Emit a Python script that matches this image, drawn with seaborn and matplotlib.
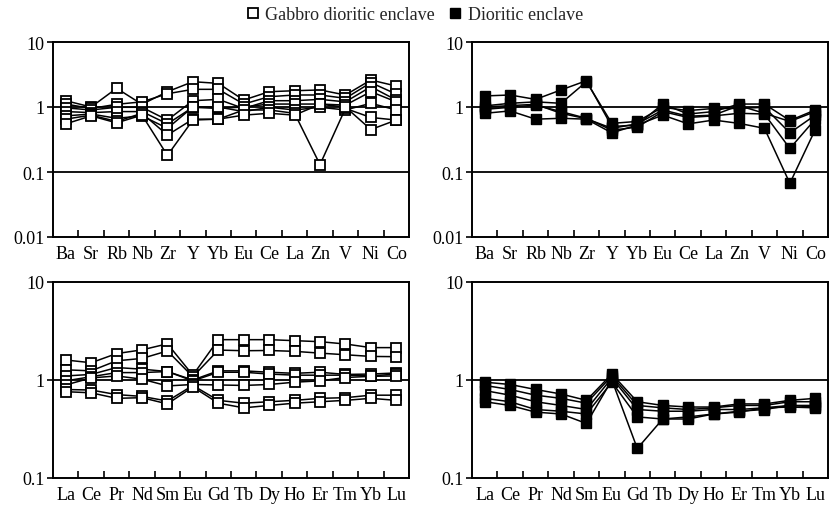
import numpy as np
import pandas as pd
import matplotlib
matplotlib.use("Agg")
import matplotlib.pyplot as plt
from matplotlib.lines import Line2D
from matplotlib.ticker import FixedLocator, NullFormatter
import seaborn as sns

# ---------------- data ----------------
trace_elements = ["Ba", "Sr", "Rb", "Nb", "Zr", "Y", "Yb", "Eu", "Ce", "La", "Zn", "V", "Ni", "Co"]
ree_elements = ["La", "Ce", "Pr", "Nd", "Sm", "Eu", "Gd", "Tb", "Dy", "Ho", "Er", "Tm", "Yb", "Lu"]

gabbro_trace = [
    [1.25, 1.00, 1.94, 1.10, 1.72, 2.45, 2.31, 1.28, 1.72, 1.78, 1.83, 1.53, 2.60, 2.10],
    [1.11, 0.95, 1.10, 1.20, 1.60, 1.87, 1.87, 1.11, 1.44, 1.53, 1.53, 1.36, 2.37, 1.58],
    [0.97, 0.90, 0.99, 0.99, 0.63, 1.25, 1.31, 0.95, 1.25, 1.25, 1.31, 1.20, 2.05, 1.28],
    [0.85, 0.82, 0.85, 0.85, 0.55, 0.99, 0.95, 1.00, 1.11, 1.11, 1.11, 1.07, 1.72, 1.20],
    [0.73, 0.78, 0.67, 0.73, 0.47, 1.00, 1.00, 0.85, 0.99, 0.90, 0.99, 0.90, 1.14, 0.90],
    [0.65, 0.75, 0.60, 0.80, 0.37, 0.65, 0.65, 0.90, 0.90, 0.80, 0.13, 0.95, 0.69, 0.63],
    [0.55, 0.73, 0.57, 0.75, 0.18, 0.63, 0.65, 0.75, 0.80, 0.75, 1.10, 1.00, 0.45, 0.63],
]
diorite_trace = [
    [1.48, 1.53, 1.31, 1.83, 2.54, 0.50, 0.53, 1.11, 0.78, 0.85, 1.11, 1.11, 0.62, 0.90],
    [1.04, 1.14, 1.20, 1.14, 2.45, 0.56, 0.60, 0.99, 0.88, 0.95, 0.95, 0.99, 0.40, 0.75],
    [0.92, 0.99, 1.07, 0.85, 0.67, 0.44, 0.49, 0.85, 0.69, 0.73, 0.80, 0.78, 0.23, 0.65],
    [0.80, 0.87, 0.65, 0.67, 0.65, 0.40, 0.53, 0.75, 0.55, 0.63, 0.56, 0.47, 0.067, 0.45],
    [1.00, 1.05, 1.10, 0.80, 0.66, 0.47, 0.55, 0.90, 0.72, 0.75, 1.05, 0.80, 0.60, 0.85],
]
gabbro_ree = [
    [1.60, 1.50, 1.86, 2.03, 2.34, 1.12, 2.58, 2.58, 2.58, 2.52, 2.46, 2.33, 2.14, 2.14],
    [1.27, 1.24, 1.57, 1.66, 1.98, 1.08, 2.02, 1.99, 2.00, 1.96, 1.88, 1.81, 1.74, 1.73],
    [1.10, 1.14, 1.34, 1.29, 1.22, 1.00, 1.24, 1.24, 1.20, 1.17, 1.20, 1.14, 1.15, 1.18],
    [0.98, 1.08, 1.19, 1.19, 1.22, 0.98, 1.20, 1.20, 1.15, 1.12, 1.12, 1.12, 1.10, 1.15],
    [0.89, 1.05, 1.10, 1.02, 0.87, 0.90, 0.89, 0.88, 0.90, 0.95, 0.98, 1.06, 1.09, 1.10],
    [0.80, 0.79, 0.71, 0.68, 0.61, 0.88, 0.62, 0.58, 0.60, 0.62, 0.65, 0.66, 0.70, 0.70],
    [0.76, 0.74, 0.65, 0.66, 0.57, 0.85, 0.58, 0.52, 0.55, 0.58, 0.60, 0.62, 0.65, 0.62],
]
diorite_ree = [
    [0.95, 0.90, 0.80, 0.72, 0.62, 1.15, 0.60, 0.55, 0.53, 0.53, 0.57, 0.57, 0.62, 0.65],
    [0.88, 0.80, 0.70, 0.65, 0.58, 1.10, 0.55, 0.52, 0.50, 0.52, 0.55, 0.55, 0.60, 0.60],
    [0.78, 0.70, 0.60, 0.55, 0.50, 1.05, 0.50, 0.48, 0.48, 0.50, 0.50, 0.52, 0.55, 0.55],
    [0.65, 0.60, 0.50, 0.48, 0.45, 0.95, 0.42, 0.40, 0.42, 0.45, 0.48, 0.50, 0.55, 0.53],
    [0.60, 0.55, 0.47, 0.45, 0.36, 1.00, 0.20, 0.40, 0.40, 0.45, 0.47, 0.52, 0.53, 0.52],
]

legend_labels = ["Gabbro dioritic enclave", "Dioritic enclave"]


def to_long(rows, elements):
    recs = []
    for s, row in enumerate(rows):
        for i, (el, v) in enumerate(zip(elements, row)):
            recs.append({"sample": s, "pos": i, "element": el, "value": v})
    return pd.DataFrame(recs)


sns.set_theme(style="white")
plt.rcParams["font.family"] = ["Liberation Serif", "DejaVu Serif"]
plt.rcParams["mathtext.fontset"] = "stix"

fig = plt.figure(figsize=(8.3, 5.1), dpi=100)
W, H = 830, 510


def add_ax(x0, y0, x1, y1):
    return fig.add_axes([x0 / W, 1 - y1 / H, (x1 - x0) / W, (y1 - y0) / H])


ax_tl = add_ax(53, 43, 409, 238)
ax_tr = add_ax(472, 43, 828, 238)
ax_bl = add_ax(53, 283, 409, 479)
ax_br = add_ax(472, 283, 828, 479)

FS = 13
open_kw = dict(marker="s", markersize=7.5, markerfacecolor="white",
               markeredgecolor="black", markeredgewidth=1.3)
fill_kw = dict(marker="s", markersize=7.5, markerfacecolor="black",
               markeredgecolor="black", markeredgewidth=1.0)

panels = [
    (ax_tl, gabbro_trace, trace_elements, open_kw, (0.01, 10)),
    (ax_tr, diorite_trace, trace_elements, fill_kw, (0.01, 10)),
    (ax_bl, gabbro_ree, ree_elements, open_kw, (0.1, 10)),
    (ax_br, diorite_ree, ree_elements, fill_kw, (0.1, 10)),
]

for ax, rows, elements, mkw, ylim in panels:
    df = to_long(rows, elements)
    sns.lineplot(data=df, x="pos", y="value", units="sample", estimator=None,
                 color="black", linewidth=1.1, ax=ax, legend=False, zorder=3, **mkw)
    ax.set_yscale("log")
    ax.set_ylim(*ylim)
    n = len(elements)
    ax.set_xlim(-0.5, n - 0.5)
    ax.set_xlabel("")
    ax.set_ylabel("")
    # y ticks
    if ylim[0] == 0.01:
        yt = [0.01, 0.1, 1, 10]
        ylab = ["0.01", "0.1", "1", "10"]
    else:
        yt = [0.1, 1, 10]
        ylab = ["0.1", "1", "10"]
    ax.yaxis.set_major_locator(FixedLocator(yt))
    ax.set_yticklabels(ylab)
    ax.yaxis.set_minor_locator(FixedLocator([]))
    ax.yaxis.set_minor_formatter(NullFormatter())
    ax.tick_params(axis="y", which="major", direction="out", length=4, width=1.2,
                   labelsize=FS, pad=2, left=True, colors="black")
    # horizontal reference lines at interior decades
    for v in yt[1:-1]:
        ax.axhline(v, color="black", linewidth=1.3, zorder=1)
    # x ticks: labels at centers, tick marks at boundaries
    ax.xaxis.set_major_locator(FixedLocator(np.arange(n)))
    ax.set_xticklabels(elements)
    ax.xaxis.set_minor_locator(FixedLocator(np.arange(n - 1) + 0.5))
    ax.tick_params(axis="x", which="major", length=0, labelsize=FS, pad=6, colors="black")
    ax.tick_params(axis="x", which="minor", direction="in", length=5, width=1.2,
                   bottom=True, colors="black")
    for sp in ax.spines.values():
        sp.set_visible(True)
        sp.set_color("black")
        sp.set_linewidth(1.4)
    ax.grid(False)
    ax.set_facecolor("white")

handles = [
    Line2D([], [], linestyle="none", marker="s", markersize=7, markerfacecolor="white",
           markeredgecolor="black", markeredgewidth=1.3),
    Line2D([], [], linestyle="none", marker="s", markersize=7, markerfacecolor="black",
           markeredgecolor="black"),
]
fig.legend(handles, legend_labels, loc="center", bbox_to_anchor=(0.5, 1 - 16 / H),
           ncol=2, frameon=False, fontsize=FS, handlelength=0.6, handletextpad=0.4,
           columnspacing=0.8, borderaxespad=0)

fig.savefig("out.png", dpi=100, facecolor="white")
